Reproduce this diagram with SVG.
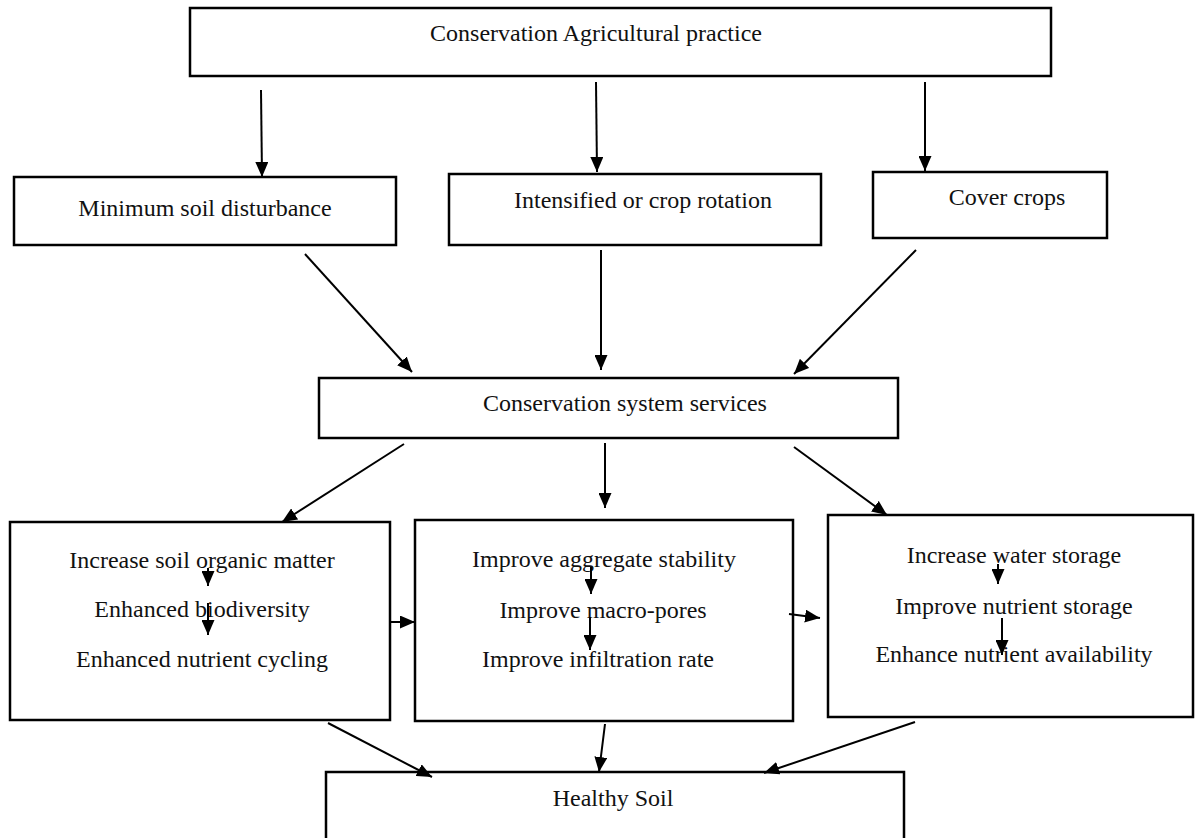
<svg xmlns="http://www.w3.org/2000/svg" width="1195" height="838" viewBox="0 0 1195 838">
<style>
.box{fill:#fff;stroke:#000;stroke-width:2.5}
.t{font-family:"Liberation Serif","Times New Roman",serif;font-size:24px;fill:#111;text-anchor:middle}
.c{stroke:#000;stroke-width:2;fill:none}
</style>
<defs>
<marker id="ah" viewBox="0 0 15 13" refX="15" refY="6.5" markerWidth="15" markerHeight="13" markerUnits="userSpaceOnUse" orient="auto">
<path d="M0,0 L15,6.5 L0,13 z" fill="#000"/>
</marker>
</defs>
<rect width="1195" height="838" fill="#fff"/>
<g id="n-top"><rect class="box" x="190" y="8" width="861" height="68"/><text class="t" x="596" y="41">Conservation Agricultural practice</text></g>
<g id="n-min"><rect class="box" x="14" y="177" width="382" height="68"/><text class="t" x="205" y="216">Minimum soil disturbance</text></g>
<g id="n-int"><rect class="box" x="449" y="174" width="372" height="71"/><text class="t" x="643" y="208">Intensified or crop rotation</text></g>
<g id="n-cov"><rect class="box" x="873" y="172" width="234" height="66"/><text class="t" x="1007" y="205">Cover crops</text></g>
<g id="n-css"><rect class="box" x="319" y="378" width="579" height="60"/><text class="t" x="625" y="411">Conservation system services</text></g>
<g id="n-a"><rect class="box" x="10" y="522" width="380" height="198"/>
<text class="t" x="202" y="568">Increase soil organic matter</text>
<text class="t" x="202" y="617">Enhanced biodiversity</text>
<text class="t" x="202" y="667">Enhanced nutrient cycling</text>
<line class="c" x1="208" y1="568" x2="208" y2="586" marker-end="url(#ah)"/>
<line class="c" x1="208" y1="603" x2="208" y2="635" marker-end="url(#ah)"/>
</g>
<g id="n-b"><rect class="box" x="415" y="520" width="378" height="201"/>
<text class="t" x="604" y="567">Improve aggregate stability</text>
<text class="t" x="603" y="618">Improve macro-pores</text>
<text class="t" x="598" y="667">Improve infiltration rate</text>
<line class="c" x1="591" y1="567" x2="591" y2="594" marker-end="url(#ah)"/>
<line class="c" x1="590" y1="617" x2="590" y2="650" marker-end="url(#ah)"/>
</g>
<g id="n-c"><rect class="box" x="828" y="515" width="365" height="202"/>
<text class="t" x="1014" y="563">Increase water storage</text>
<text class="t" x="1014" y="614">Improve nutrient storage</text>
<text class="t" x="1014" y="662">Enhance nutrient availability</text>
<line class="c" x1="998" y1="564" x2="998" y2="584" marker-end="url(#ah)"/>
<line class="c" x1="1002" y1="618" x2="1002" y2="655" marker-end="url(#ah)"/>
</g>
<g id="n-hs"><rect class="box" x="326" y="772" width="578" height="80"/><text class="t" x="613" y="806">Healthy Soil</text></g>
<g id="connectors">
<line class="c" x1="261" y1="90" x2="262" y2="177" marker-end="url(#ah)"/>
<line class="c" x1="596" y1="82" x2="597" y2="172" marker-end="url(#ah)"/>
<line class="c" x1="925" y1="82" x2="925" y2="171" marker-end="url(#ah)"/>
<line class="c" x1="305" y1="254" x2="412" y2="372" marker-end="url(#ah)"/>
<line class="c" x1="601" y1="250" x2="601" y2="370" marker-end="url(#ah)"/>
<line class="c" x1="916" y1="250" x2="794" y2="374" marker-end="url(#ah)"/>
<line class="c" x1="404" y1="444" x2="282" y2="522" marker-end="url(#ah)"/>
<line class="c" x1="605" y1="443" x2="605" y2="508" marker-end="url(#ah)"/>
<line class="c" x1="794" y1="447" x2="887" y2="515" marker-end="url(#ah)"/>
<line class="c" x1="390" y1="622" x2="415" y2="622" marker-end="url(#ah)"/>
<line class="c" x1="789" y1="614" x2="820" y2="618" marker-end="url(#ah)"/>
<line class="c" x1="328" y1="723" x2="432" y2="777" marker-end="url(#ah)"/>
<line class="c" x1="605" y1="724" x2="599" y2="772" marker-end="url(#ah)"/>
<line class="c" x1="915" y1="722" x2="764" y2="773" marker-end="url(#ah)"/>
</g>
</svg>
